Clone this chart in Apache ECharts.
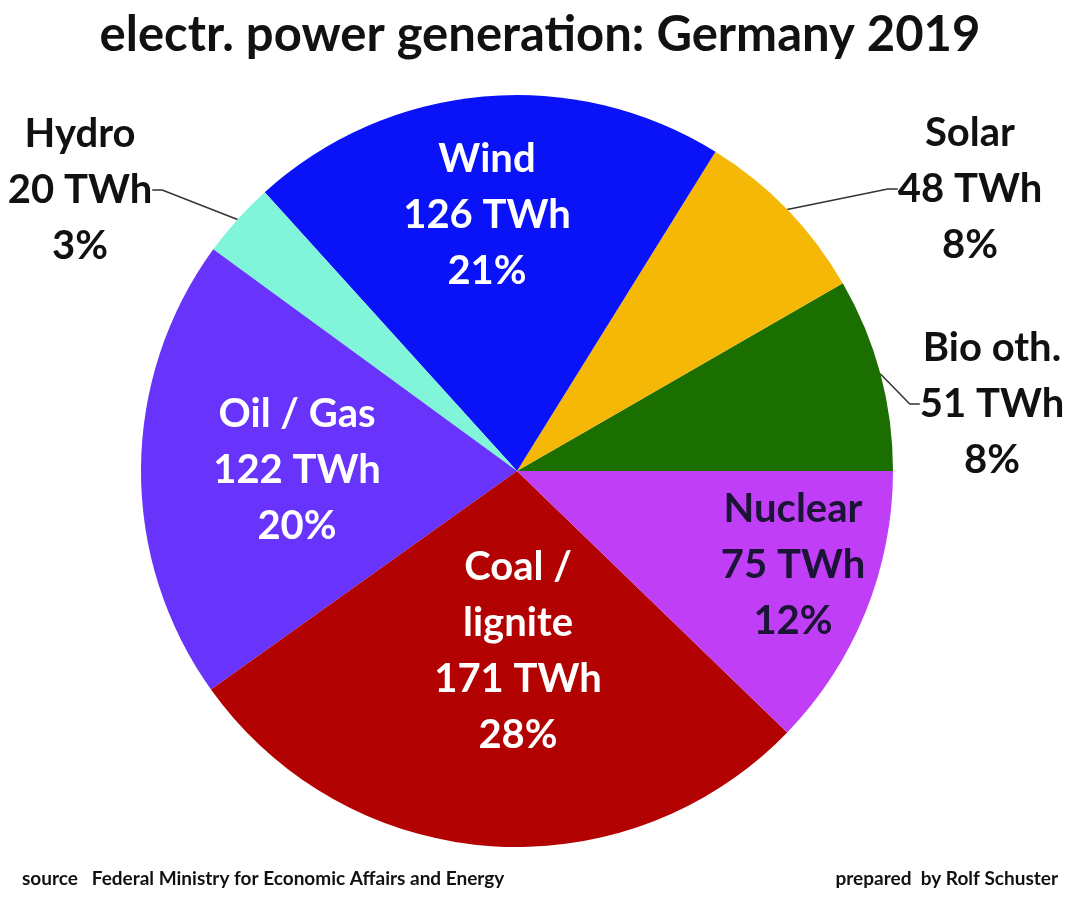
<!DOCTYPE html>
<html>
<head>
<meta charset="utf-8">
<script src="https://cdn.jsdelivr.net/npm/echarts@6/dist/echarts.min.js"></script>
<style>
  html, body { margin: 0; padding: 0; background: #ffffff; }
  #chart { width: 1080px; height: 897px; }
</style>
</head>
<body>
<div id="chart"></div>
<script>
// ---- data ----
const categories = ['Bio oth.', 'Solar', 'Wind', 'Hydro', 'Oil / Gas', 'Coal /\nlignite', 'Nuclear'];
const valuesTWh = [51, 48, 126, 20, 122, 171, 75];
const titleText = 'electr. power generation: Germany 2019';
const sourceText = 'source   Federal Ministry for Economic Affairs and Energy';
const authorText = 'prepared  by Rolf Schuster';

// ---- styles ----
const sliceColors = ['#1b6e00', '#f6b806', '#0a12f8', '#80f5da', '#6834fb', '#b30202', '#c03ff6'];
const labelColors = ['#111111', '#111111', '#ffffff', '#111111', '#ffffff', '#ffffff', '#1c1436'];
const outsideLabel = [true, true, false, true, false, false, false];
// label block centres (layout only)
const labelAt = [[992, 404], [970, 189], [487, 215], [80, 190], [297, 470], [518, 651], [793, 565]];

const FONT = 'Lato';

const seriesData = categories.map((name, i) => ({
  name: name,
  value: valuesTWh[i],
  itemStyle: { color: sliceColors[i] },
  label: {
    position: outsideLabel[i] ? 'outside' : 'inside',
    color: labelColors[i]
  },
  labelLine: { show: outsideLabel[i] }
}));

const chart = echarts.init(document.getElementById('chart'), null, { renderer: 'canvas' });
chart.setOption({
  backgroundColor: '#ffffff',
  animation: false,
  title: [
    {
      text: titleText,
      left: 'center',
      top: 6,
      textStyle: { fontFamily: FONT, fontSize: 49, fontWeight: 'bold', color: '#111111' }
    },
    {
      text: sourceText,
      left: 17,
      top: 864,
      textStyle: { fontFamily: FONT, fontSize: 19, fontWeight: 'bold', color: '#111111' }
    },
    {
      text: authorText,
      right: 17,
      top: 864,
      textStyle: { fontFamily: FONT, fontSize: 19, fontWeight: 'bold', color: '#111111' }
    }
  ],
  series: [{
    type: 'pie',
    center: [517, 471],
    radius: [0, 376],
    startAngle: 0,
    clockwise: false,
    percentPrecision: 0,
    avoidLabelOverlap: false,
    itemStyle: { borderWidth: 0 },
    label: {
      show: true,
      fontFamily: FONT,
      fontSize: 40,
      fontWeight: 'bold',
      lineHeight: 56,
      align: 'center',
      formatter: p => p.name + '\n' + p.value + ' TWh\n' + p.percent + '%'
    },
    labelLine: {
      lineStyle: { color: '#333333', width: 1.5 },
      length: 20,
      length2: 10
    },
    labelLayout: function (params) {
      const pos = labelAt[params.dataIndex];
      return { x: pos[0], y: pos[1], align: 'center', verticalAlign: 'middle' };
    },
    data: seriesData
  }]
});
</script>
</body>
</html>
